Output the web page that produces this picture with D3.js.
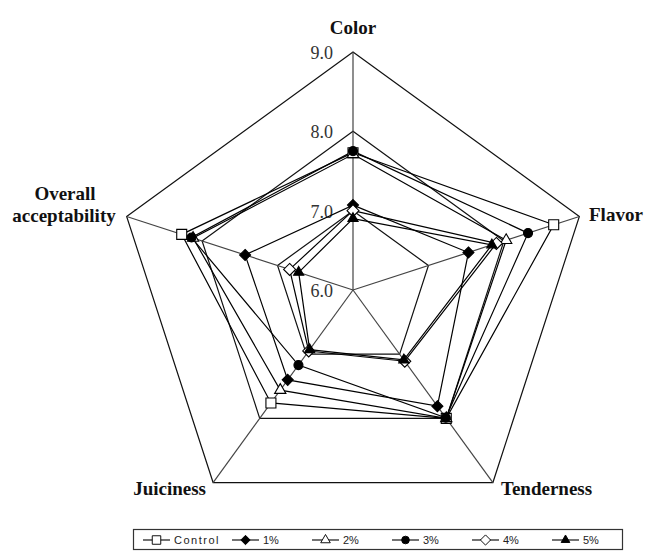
<!DOCTYPE html>
<html>
<head>
<meta charset="utf-8">
<script src="https://cdn.jsdelivr.net/npm/d3@7"></script>
<style>
  html, body { margin: 0; padding: 0; background: #fff; }
  svg { display: block; }
</style>
</head>
<body>
<svg id="chart" width="645" height="552"></svg>
<script>
// Sensory attributes (clockwise from the top)
const attributes = ["Color", "Flavor", "Tenderness", "Juiciness", "Overall acceptability"];
const ticks = [6, 7, 8, 9];
const seriesNames = ["Control", "1%", "2%", "3%", "4%", "5%"];

// Mean scores per treatment, in attribute order
const control = [7.73, 8.66, 8.00, 7.76, 8.27];
const pct1    = [7.07, 7.53, 7.81, 7.40, 7.43];
const pct2    = [7.71, 8.03, 8.00, 7.56, 8.12];
const pct3    = [7.75, 8.32, 7.99, 7.17, 8.14];
const pct4    = [7.00, 7.90, 7.11, 6.95, 6.84];
const pct5    = [6.90, 7.84, 7.09, 6.93, 6.72];
const seriesValues = [control, pct1, pct2, pct3, pct4, pct5];

// Rotated-square diamond with a given half diagonal
const diamond = h => `M0,${-h}L${h},0L0,${h}L${-h},0Z`;

// Marker styles per series
const markers = [
  { path: d3.symbol().type(d3.symbolSquare).size(100)(),   fill: "#fff" },
  { path: diamond(5.5),                                    fill: "#000" },
  { path: d3.symbol().type(d3.symbolTriangle).size(55)(),  fill: "#fff" },
  { path: d3.symbol().type(d3.symbolCircle).size(64)(),    fill: "#000" },
  { path: diamond(6),                                      fill: "#fff" },
  { path: d3.symbol().type(d3.symbolTriangle).size(45)(),  fill: "#000" }
];

const svg = d3.select("#chart");
const cx = 353, cy = 290, R = 238;
const r = d3.scaleLinear().domain([6, 9]).range([0, R]);
const angle = d3.scalePoint().domain(attributes).range([0, 2 * Math.PI * 4 / 5]);
const pt = (attr, v) => {
  const a = angle(attr);
  return [cx + r(v) * Math.sin(a), cy - r(v) * Math.cos(a)];
};

const g = svg.append("g");

// Grid pentagons
ticks.filter(t => t > 6).forEach(t => {
  g.append("polygon")
    .attr("points", attributes.map(a => pt(a, t).join(",")).join(" "))
    .attr("fill", "none").attr("stroke", "#111").attr("stroke-width", 1.2);
});

// Spokes
attributes.forEach(a => {
  const [x, y] = pt(a, 9);
  g.append("line").attr("x1", cx).attr("y1", cy).attr("x2", x).attr("y2", y)
    .attr("stroke", "#444").attr("stroke-width", 1.2);
});

// Tick labels along the Color spoke
ticks.forEach(t => {
  const [x, y] = pt("Color", t);
  g.append("text").attr("x", x - 20).attr("y", y + 7)
    .attr("text-anchor", "end")
    .attr("font-family", "Liberation Serif, Times New Roman, serif")
    .attr("font-size", 18).attr("fill", "#333")
    .text(t.toFixed(1));
});

// Attribute labels
const labelFont = "Liberation Serif, Times New Roman, serif";
const lbl = (x, y, anchor, txt) => g.append("text").attr("x", x).attr("y", y)
  .attr("text-anchor", anchor).attr("font-family", labelFont)
  .attr("font-weight", "bold").attr("font-size", 19).attr("fill", "#111").text(txt);
lbl(cx, 34, "middle", attributes[0]);
lbl(589, 221, "start", attributes[1]);
lbl(501, 495, "start", attributes[2]);
lbl(206, 495, "end", attributes[3]);
const oa = attributes[4].split(" ");
lbl(65, 200, "middle", oa[0]);
lbl(64, 222, "middle", oa[1]);

// Series polygons and markers
const line = d3.line().curve(d3.curveLinearClosed);
seriesValues.forEach(vals => {
  const pts = attributes.map((a, k) => pt(a, vals[k]));
  g.append("path").attr("d", line(pts))
    .attr("fill", "none").attr("stroke", "#000").attr("stroke-width", 1.2);
});
seriesValues.forEach((vals, i) => {
  const m = markers[i];
  attributes.forEach((a, k) => {
    const [x, y] = pt(a, vals[k]);
    g.append("path")
      .attr("d", m.path)
      .attr("transform", `translate(${x},${y})`)
      .attr("fill", m.fill).attr("stroke", "#000").attr("stroke-width", 1.1);
  });
});

// Legend
const leg = svg.append("g");
leg.append("rect").attr("x", 133.5).attr("y", 529.5).attr("width", 489).attr("height", 20)
  .attr("fill", "#fff").attr("stroke", "#333").attr("stroke-width", 1.2);
seriesNames.forEach((name, i) => {
  const x0 = i === 0 ? 143 : 232 + (i - 1) * 80;
  const y0 = 540;
  leg.append("line").attr("x1", x0).attr("x2", x0 + 27).attr("y1", y0).attr("y2", y0)
    .attr("stroke", "#000").attr("stroke-width", 1.1);
  const m = markers[i];
  leg.append("path")
    .attr("d", m.path)
    .attr("transform", `translate(${x0 + 13.5},${y0}) scale(0.85)`)
    .attr("fill", m.fill).attr("stroke", "#000").attr("stroke-width", 1.1);
  leg.append("text").attr("x", x0 + 31).attr("y", y0 + 4)
    .attr("font-family", "Liberation Sans, Arial, sans-serif")
    .attr("font-size", 11).attr("fill", "#222")
    .attr("letter-spacing", i === 0 ? 1.5 : 0)
    .text(name);
});
</script>
</body>
</html>
